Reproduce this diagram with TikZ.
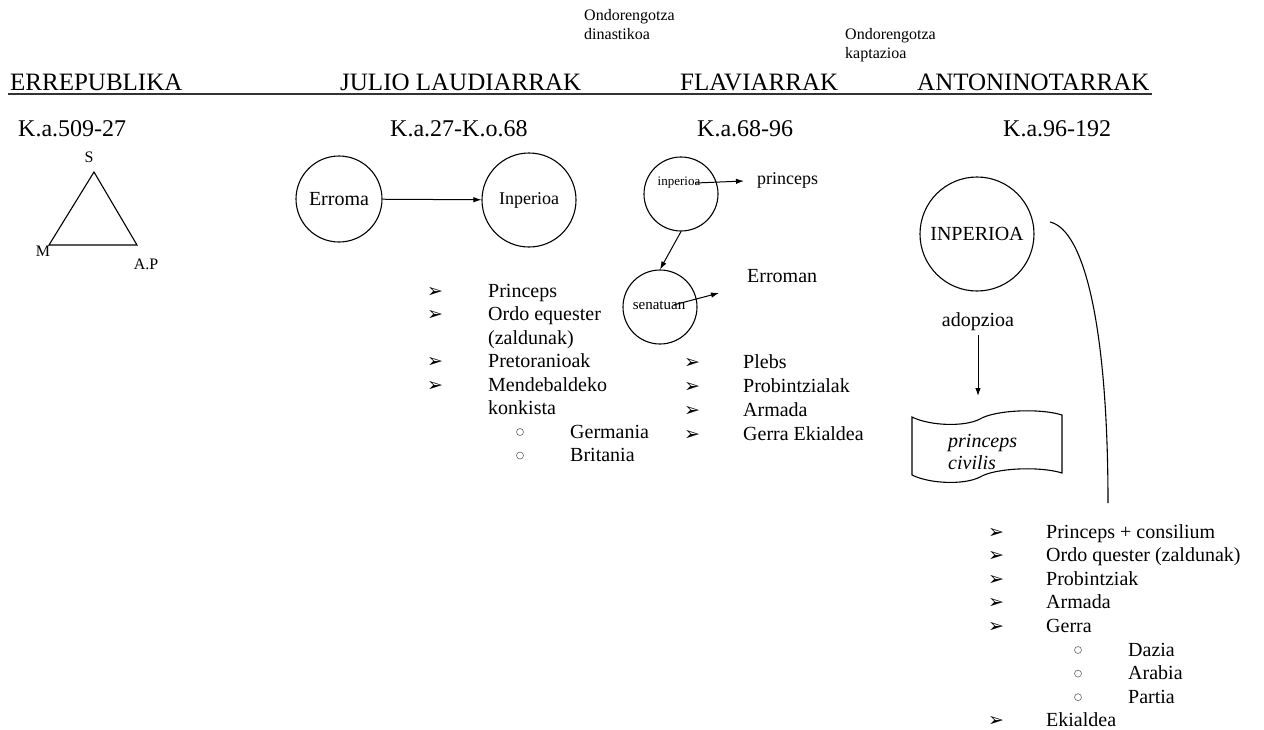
\documentclass[tikz,border=0pt]{standalone}
\usepackage{fontspec}
\setmainfont{Liberation Serif}
\newfontfamily\dingfont{DejaVu Sans}
\usetikzlibrary{arrows.meta}

\tikzset{
  hdr/.style={anchor=base west, inner sep=0, font=\fontsize{25}{30}\selectfont},
  datetxt/.style={anchor=base west, inner sep=0, font=\fontsize{24}{29}\selectfont},
  notetxt/.style={anchor=north west, inner sep=0, align=left, font=\fontsize{16}{19}\selectfont},
  circ/.style={circle, draw, line width=1.1pt, inner sep=0},
  listitem/.style={anchor=base west, inner sep=0, font=\fontsize{20}{24}\selectfont},
  bul/.style={anchor=base, inner sep=0, font=\dingfont\fontsize{19}{22}\selectfont},
  subbul/.style={circle, draw, black!60, line width=0.6pt, minimum size=7pt, inner sep=0},
  arr/.style={-{Latex[length=8pt,width=5.5pt]}, line width=1pt},
}

\begin{document}
\begin{tikzpicture}[x=1pt, y=-1pt]
  \useasboundingbox (0,0) rectangle (1264,729);

  \node[notetxt] (ond1) at (584,9) {Ondorengotza\\dinastikoa};
  \node[notetxt] (ond2) at (845,28) {Ondorengotza\\kaptazioa};

  \node[hdr] (errep) at (10,90) {ERREPUBLIKA};
  \node[hdr] (julio) at (340,90) {JULIO LAUDIARRAK};
  \node[hdr] (flavi) at (680,90) {FLAVIARRAK};
  \node[hdr] (anton) at (917,90) {ANTONINOTARRAK};
  \draw[line width=2pt, black!80] (8,94) -- (1152,94);

  \node[datetxt] (d1) at (18,136) {K.a.509-27};
  \node[datetxt] (d2) at (390,136) {K.a.27-K.o.68};
  \node[datetxt] (d3) at (697,136) {K.a.68-96};
  \node[datetxt] (d4) at (1003,136) {K.a.96-192};

  % errepublika
  \coordinate (ts) at (94,172);
  \coordinate (tm) at (49,245);
  \coordinate (tap) at (137,245);
  \draw[line width=1.1pt] (ts) -- (tm) -- (tap) -- cycle;
  \node[font=\fontsize{16}{18}\selectfont] (s) at (89,157) {S};
  \node[font=\fontsize{16}{18}\selectfont] (m) at (43,251) {M};
  \node[font=\fontsize{16}{18}\selectfont] (ap) at (146,264) {A.P};

  % julio laudiarrak
  \node[circ, minimum size=86pt, font=\fontsize{20}{22}\selectfont] (erroma) at (339,199) {Erroma};
  \node[circ, minimum size=94pt, font=\fontsize{18}{20}\selectfont] (jinp) at (529,200) {Inperioa};
  \draw[arr] (erroma) -- (jinp);

  \foreach \t/\i in {Princeps/0, Ordo equester/1, (zaldunak)/2, Pretoranioak/3, Mendebaldeko/4, konkista/5}
    \node[listitem] (jl\i) at (488,{297+23.5*\i}) {\t};
  \foreach \t/\i in {Germania/6, Britania/7}
    \node[listitem] (jl\i) at (570,{297+23.5*\i}) {\t};
  \foreach \i in {0,1,3,4}
    \node[bul] (jb\i) at (435,{297+23.5*\i}) {➢};
  \foreach \i in {6,7}
    \node[subbul] (js\i) at (520,{297+23.5*\i-6}) {};

  % flaviarrak
  \node[circ, minimum size=74pt] (finp) at (681,194) {};
  \node[inner sep=0, font=\fontsize{13}{15}\selectfont] (finplbl) at (679,183) {inperioa};
  \node[anchor=base west, inner sep=0, font=\fontsize{18}{20}\selectfont] (princeps) at (757,184) {princeps};
  \coordinate (fpa) at (744,181);
  \draw[arr] ([xshift=-5pt]finplbl.east) -- (fpa);

  \node[circ, minimum size=74pt] (fsen) at (660,307) {};
  \node[inner sep=0, font=\fontsize{15}{17}\selectfont] (fsenlbl) at (659,305) {senatuan};
  \draw[arr] (finp.south) -- (fsen.north);
  \coordinate (fsb) at (719,293);
  \draw[arr] ([xshift=-12pt]fsenlbl.east) -- (fsb);
  \node[anchor=base west, inner sep=0, font=\fontsize{20}{22}\selectfont] (erroman) at (747,282) {Erroman};

  \foreach \t [count=\i from 0] in {Plebs, Probintzialak, Armada, Gerra Ekialdea} {
    \node[listitem] (fl\i) at (743,{368+24*\i}) {\t};
    \node[bul] (fb\i) at (692,{368+24*\i}) {➢};
  }

  % antoninotarrak
  \node[circ, minimum size=114pt, font=\fontsize{20}{22}\selectfont] (ainp) at (977,234) {INPERIOA};
  \node[inner sep=0, font=\fontsize{20}{22}\selectfont] (adop) at (978,322) {adopzioa};
  \coordinate (adoptip) at (978,396);
  \draw[arr] ([yshift=-4pt]adop.south) -- (adoptip);

  \draw[line width=1.1pt] (912,417) .. controls (930,426) and (965,427) .. (980,419)
    .. controls (995,410) and (1040,408) .. (1062,415) -- (1062,473)
    .. controls (1040,466) and (995,468) .. (980,477)
    .. controls (965,485) and (930,484) .. (912,475) -- cycle;
  \node[anchor=north west, inner sep=0, align=left, font=\itshape\fontsize{20}{22}\selectfont] (pciv) at (948,434) {princeps\\civilis};

  \coordinate (cstart) at (1050,222);
  \coordinate (cend) at (1108,503);
  \draw[line width=1.1pt] (cstart) .. controls (1085,230) and (1108,330) .. (cend);

  \foreach \t/\i in {Princeps + consilium/0, Ordo quester (zaldunak)/1, Probintziak/2, Armada/3, Gerra/4, Ekialdea/8}
    \node[listitem] (al\i) at (1046,{538+23.6*\i}) {\t};
  \foreach \i in {0,1,2,3,4,8}
    \node[bul] (ab\i) at (996,{538+23.6*\i}) {➢};
  \foreach \t/\i in {Dazia/5, Arabia/6, Partia/7} {
    \node[listitem] (al\i) at (1128,{538+23.6*\i}) {\t};
    \node[subbul] (as\i) at (1078,{538+23.6*\i-6}) {};
  }
\end{tikzpicture}
\end{document}
